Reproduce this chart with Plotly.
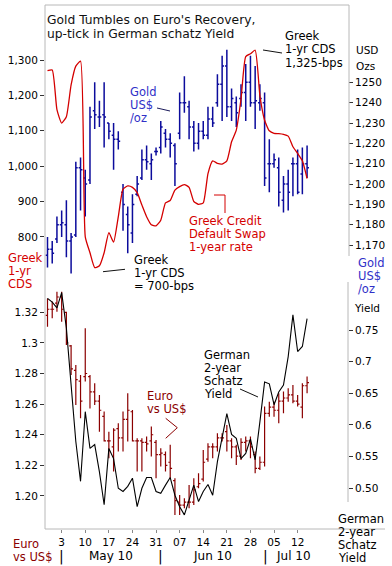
import plotly.graph_objects as go

# ---------------- data ----------------
dates = ["2010-04-28", "2010-04-29", "2010-04-30",
         "2010-05-03", "2010-05-04", "2010-05-05", "2010-05-06", "2010-05-07",
         "2010-05-10", "2010-05-11", "2010-05-12", "2010-05-13", "2010-05-14",
         "2010-05-17", "2010-05-18", "2010-05-19", "2010-05-20", "2010-05-21",
         "2010-05-24", "2010-05-25", "2010-05-26", "2010-05-27", "2010-05-28",
         "2010-05-31", "2010-06-01", "2010-06-02", "2010-06-03", "2010-06-04",
         "2010-06-07", "2010-06-08", "2010-06-09", "2010-06-10", "2010-06-11",
         "2010-06-14", "2010-06-15", "2010-06-16", "2010-06-17", "2010-06-18",
         "2010-06-21", "2010-06-22", "2010-06-23", "2010-06-24", "2010-06-25",
         "2010-06-28", "2010-06-29", "2010-06-30", "2010-07-01", "2010-07-02",
         "2010-07-05", "2010-07-06", "2010-07-07", "2010-07-08", "2010-07-09",
         "2010-07-12", "2010-07-13", "2010-07-14"]

greek_cds = [1270, 1272, 1160, 1122, 1140, 1230, 1283, 1297, 800, 755,
             713, 718, 755, 812, 785, 857, 935, 944, 940, 925,
             890, 857, 834, 831, 847, 896, 903, 932, 942, 948,
             940, 900, 892, 896, 979, 1015, 1008, 1006, 1015, 1069,
             1102, 1190, 1310, 1318, 1328, 1200, 1130, 1100, 1093, 1092,
             1090, 1085, 1055, 1036, 1015, 965]

gold_open = [1165, 1168, 1173, 1180, 1180, 1172, 1175, 1208, 1203, 1202,
             1236, 1233, 1234, 1230, 1224, 1222, 1196, 1185, 1176, 1195,
             1203, 1212, 1210, 1216, 1218, 1225, 1222, 1219, 1225, 1240,
             1238, 1228, 1220, 1226, 1224, 1232, 1240, 1249, 1258, 1238,
             1240, 1242, 1245, 1250, 1240, 1240, 1240, 1210, 1210, 1208,
             1192, 1200, 1210, 1210, 1205, 1210]
gold_high = [1174, 1172, 1184, 1187, 1192, 1176, 1211, 1213, 1207, 1238,
             1250, 1241, 1250, 1230, 1230, 1226, 1200, 1189, 1195, 1204,
             1217, 1219, 1215, 1218, 1231, 1227, 1225, 1220, 1245, 1253,
             1241, 1231, 1230, 1231, 1238, 1238, 1254, 1263, 1266, 1247,
             1243, 1249, 1259, 1263, 1258, 1249, 1245, 1222, 1215, 1213,
             1204, 1207, 1213, 1217, 1218, 1219]
gold_low = [1159, 1161, 1171, 1174, 1164, 1156, 1174, 1187, 1184, 1200,
            1227, 1228, 1218, 1222, 1207, 1217, 1177, 1166, 1171, 1194,
            1202, 1207, 1202, 1214, 1215, 1218, 1213, 1199, 1222, 1235,
            1222, 1216, 1217, 1222, 1222, 1228, 1238, 1231, 1233, 1231,
            1228, 1238, 1231, 1238, 1227, 1236, 1199, 1196, 1208, 1189,
            1186, 1187, 1194, 1195, 1195, 1203]
gold_close = [1168, 1166, 1180, 1181, 1172, 1174, 1208, 1207, 1200, 1233,
              1234, 1233, 1233, 1226, 1222, 1221, 1190, 1180, 1190, 1200,
              1212, 1211, 1212, 1216, 1228, 1222, 1220, 1210, 1240, 1240,
              1228, 1220, 1226, 1224, 1232, 1230, 1249, 1258, 1238, 1242,
              1235, 1245, 1250, 1240, 1241, 1242, 1203, 1210, 1212, 1196,
              1200, 1196, 1210, 1196, 1210, 1208]

euro_open = [1.318, 1.322, 1.326, 1.330, 1.320, 1.298, 1.282, 1.275, 1.278, 1.278,
             1.268, 1.262, 1.252, 1.236, 1.232, 1.244, 1.238, 1.250, 1.255, 1.236,
             1.236, 1.235, 1.236, 1.235, 1.227, 1.227, 1.222, 1.210, 1.196, 1.194,
             1.196, 1.196, 1.206, 1.211, 1.224, 1.232, 1.232, 1.238, 1.242, 1.236,
             1.232, 1.226, 1.235, 1.236, 1.227, 1.218, 1.222, 1.254, 1.258, 1.256,
             1.262, 1.264, 1.266, 1.262, 1.258, 1.272]
euro_high = [1.329, 1.327, 1.3335, 1.3335, 1.3204, 1.2986, 1.2856, 1.2790, 1.3095, 1.2790,
             1.2736, 1.2660, 1.2551, 1.2420, 1.2442, 1.2475, 1.2551, 1.2671, 1.2562, 1.2377,
             1.2377, 1.2388, 1.2453, 1.2366, 1.2312, 1.2290, 1.2334, 1.2115, 1.2006, 1.1985,
             1.2072, 1.2115, 1.2148, 1.2300, 1.2344, 1.2344, 1.2409, 1.2409, 1.2464, 1.2377,
             1.2334, 1.2377, 1.2388, 1.2388, 1.2290, 1.2257, 1.2584, 1.2616, 1.2616, 1.2671,
             1.2682, 1.2703, 1.2725, 1.2660, 1.2736, 1.2780]
euro_low = [1.3106, 1.3161, 1.3204, 1.3139, 1.2986, 1.2790, 1.2594, 1.2507, 1.2747, 1.2572,
            1.2594, 1.2420, 1.2355, 1.2246, 1.2159, 1.2290, 1.2290, 1.2355, 1.2355, 1.2159,
            1.2159, 1.2290, 1.2257, 1.2115, 1.2192, 1.2159, 1.2115, 1.1876, 1.1876, 1.1919,
            1.1919, 1.1941, 1.2050, 1.2094, 1.2224, 1.2246, 1.2290, 1.2355, 1.2290, 1.2246,
            1.2203, 1.2235, 1.2290, 1.2246, 1.2148, 1.2170, 1.2192, 1.2518, 1.2518, 1.2475,
            1.2540, 1.2616, 1.2606, 1.2584, 1.2508, 1.2671]
euro_close = [1.322, 1.322, 1.330, 1.322, 1.300, 1.283, 1.276, 1.262, 1.280, 1.268,
              1.262, 1.256, 1.236, 1.236, 1.243, 1.238, 1.250, 1.256, 1.236, 1.236,
              1.235, 1.234, 1.240, 1.227, 1.228, 1.220, 1.218, 1.197, 1.194, 1.196,
              1.196, 1.204, 1.208, 1.222, 1.232, 1.232, 1.238, 1.238, 1.236, 1.232,
              1.226, 1.235, 1.236, 1.232, 1.218, 1.222, 1.254, 1.258, 1.256, 1.262,
              1.264, 1.266, 1.262, 1.260, 1.272, 1.274]

schatz_yield = [0.800, 0.794, 0.785, 0.809, 0.753, 0.668, 0.574, 0.511, 0.621, 0.563,
                0.569, 0.526, 0.474, 0.563, 0.547, 0.500, 0.495, 0.503, 0.516, 0.471,
                0.500, 0.517, 0.517, 0.495, 0.492, 0.505, 0.517, 0.489, 0.471, 0.458,
                0.482, 0.505, 0.479, 0.495, 0.506, 0.489, 0.542, 0.582, 0.618, 0.585,
                0.579, 0.547, 0.555, 0.578, 0.545, 0.605, 0.668, 0.665, 0.632, 0.652,
                0.663, 0.708, 0.774, 0.716, 0.724, 0.768]

x_tick_dates = ["2010-05-03", "2010-05-10", "2010-05-17", "2010-05-24", "2010-05-31",
                "2010-06-07", "2010-06-14", "2010-06-21", "2010-06-28", "2010-07-05",
                "2010-07-12"]
x_tick_text = ["3", "10", "17", "24", "31", "07", "14", "21", "28", "05", "12"]
month_labels = ["May 10", "Jun 10", "Jul 10"]

cds_ticks = [800, 900, 1000, 1100, 1200, 1300]
cds_tick_text = ["800", "900", "1,000", "1,100", "1,200", "1,300"]
gold_ticks = [1170, 1180, 1190, 1200, 1210, 1220, 1230, 1240, 1250]
gold_tick_text = ["1,170", "1,180", "1,190", "1,200", "1,210", "1,220", "1,230", "1240", "1250"]
euro_ticks = [1.20, 1.22, 1.24, 1.26, 1.28, 1.30, 1.32]
euro_tick_text = ["1.20", "1.22", "1.24", "1.26", "1.28", "1.3", "1.32"]
yield_ticks = [0.50, 0.55, 0.60, 0.65, 0.70, 0.75]
yield_tick_text = ["0.50", "0.55", "0.6", "0.65", "0.7", "0.75"]

# ---------------- style ----------------
FONT = "DejaVu Sans"
BLUE = "#0c0c9c"
BLUE_TXT = "#3030c8"
RED = "#d40000"
DARKRED = "#8b0000"
FRAME = "#b8b8b8"
W, H = 392, 566
L, R, T, B = 45, 348, 5, 529


def px(x):
    return (x - L) / (R - L)


def py(y):
    return (B - y) / (B - T)


fig = go.Figure()

fig.add_trace(go.Ohlc(
    x=dates, open=gold_open, high=gold_high, low=gold_low, close=gold_close,
    xaxis="x", yaxis="y", tickwidth=0.4, showlegend=False, hoverinfo="skip",
    increasing=dict(line=dict(color=BLUE, width=1.5)),
    decreasing=dict(line=dict(color=BLUE, width=1.5))))
fig.add_trace(go.Scatter(
    x=dates, y=greek_cds, xaxis="x", yaxis="y2", mode="lines", showlegend=False,
    line=dict(color=RED, width=1.3, shape="spline", smoothing=0.5), hoverinfo="skip"))
fig.add_trace(go.Ohlc(
    x=dates, open=euro_open, high=euro_high, low=euro_low, close=euro_close,
    xaxis="x", yaxis="y3", tickwidth=0.4, showlegend=False, hoverinfo="skip",
    increasing=dict(line=dict(color=DARKRED, width=1.2)),
    decreasing=dict(line=dict(color=DARKRED, width=1.2))))
fig.add_trace(go.Scatter(
    x=dates, y=schatz_yield, xaxis="x", yaxis="y4", mode="lines", showlegend=False,
    line=dict(color="#000000", width=1.1), hoverinfo="skip"))

tickfont = dict(family=FONT, size=10.5, color="#000")
yax_common = dict(showgrid=False, zeroline=False, showline=False, ticks="outside",
                  ticklen=4, tickwidth=1, tickcolor="#333", tickfont=tickfont,
                  fixedrange=True)

top_dom = [py(275), 1.0]
bot_dom = [0.0, py(280)]

fig.update_layout(
    width=W, height=H, autosize=False,
    margin=dict(l=L, r=W - R, t=T, b=H - B, pad=0),
    paper_bgcolor="white", plot_bgcolor="white",
    showlegend=False,
    xaxis=dict(type="category", range=[-0.53, 63.67], anchor="y3",
               tickvals=x_tick_dates, ticktext=x_tick_text, ticks="outside",
               ticklen=3, tickcolor="#888", tickfont=tickfont, showgrid=False,
               zeroline=False, showline=False, rangeslider=dict(visible=False),
               fixedrange=True),
    yaxis=dict(domain=top_dom, anchor="x", side="right", range=[1155.3, 1288],
               tickvals=gold_ticks, ticktext=gold_tick_text, **yax_common),
    yaxis2=dict(overlaying="y", anchor="x", side="left", range=[692, 1456],
                tickvals=cds_ticks, ticktext=cds_tick_text, **yax_common),
    yaxis3=dict(domain=bot_dom, anchor="x", side="left", range=[1.1784, 1.3411],
                tickvals=euro_ticks, ticktext=euro_tick_text, **yax_common),
    yaxis4=dict(overlaying="y3", anchor="x", side="right", range=[0.4357, 0.829],
                tickvals=yield_ticks, ticktext=yield_tick_text, **yax_common),
)

# ---------------- frame & connector lines ----------------
shapes = []


def seg(x0, y0, x1, y1, color=FRAME, width=1):
    shapes.append(dict(type="line", xref="paper", yref="paper",
                       x0=px(x0), y0=py(y0), x1=px(x1), y1=py(y1),
                       line=dict(color=color, width=width)))


def poly(points, color, width=1):
    d = "M " + " L ".join(f"{px(a)},{py(b)}" for a, b in points)
    shapes.append(dict(type="path", xref="paper", yref="paper", path=d,
                       line=dict(color=color, width=width)))


seg(45, 5, 45, 529)
seg(45, 5, 349, 5)
seg(349, 5, 349, 256)
seg(348, 282, 348, 502)
seg(45, 529, 385, 529)

seg(263, 50, 282, 53, "#111")
seg(157, 108, 170, 111, "#1a1a5a")
poly([(214, 195), (225, 195), (225, 213)], RED)
seg(103, 271.7, 125, 269.3, "#111")
seg(240, 389, 258, 397, "#111")
poly([(165.7, 418.3), (177.3, 427.7), (165.7, 438.3)], DARKRED)

fig.update_layout(shapes=shapes)

# ---------------- text ----------------
annotations = []


def text_block(lines, x, y0, dy, color="#000", size=11.5, anchor="left"):
    for k, line in enumerate(lines):
        annotations.append(dict(
            text=line, xref="paper", yref="paper", x=px(x), y=py(y0 + k * dy),
            xanchor=anchor, yanchor="middle", showarrow=False, borderpad=0,
            font=dict(family=FONT, size=size, color=color)))


text_block(["Gold Tumbles on Euro's Recovery,", "up-tick in German schatz Yield"],
           46, 20, 13.5, "#111", 12.3)
text_block(["Greek", "1-yr CDS", "1,325-bps"], 284, 36, 13.3)
text_block(["USD", "Ozs"], 355, 50, 16, size=10.5)
text_block(["Gold", "US$", "/oz"], 129, 92, 13, BLUE_TXT)
text_block(["Greek Credit", "Default Swap", "1-year rate"], 188, 220.7, 13.3, RED)
text_block(["Greek", "1-yr CDS", "= 700-bps"], 132.5, 260, 12.9)
text_block(["Greek", "1-yr", "CDS"], 7, 258.3, 12.9, RED)
text_block(["Gold", "US$", "/oz"], 356.5, 263.3, 12.8, BLUE_TXT)
text_block(["Yield"], 353, 308, 13, size=10.5)
text_block(["German", "2-year", "Schatz", "Yield"], 203, 355, 13)
text_block(["Euro", "vs US$"], 145.5, 395.8, 13.6, DARKRED)
text_block(["Euro", "vs US$"], 11.5, 544, 12.9, DARKRED)
text_block(["German", "2-year", "Schatz", "Yield"], 336.5, 519.3, 12.9)

for sx in (61.5, 160.5, 265.5):
    text_block(["|"], sx, 556, 13, size=14, anchor="center")
for lbl, cx in zip(month_labels, (111, 212.5, 293)):
    text_block([lbl], cx, 556, 13, size=12, anchor="center")

fig.update_layout(annotations=annotations)

fig.write_html("out.html",
               config={"displayModeBar": False, "staticPlot": True},
               post_script="document.body.style.margin='0px';document.body.style.padding='0px';")
